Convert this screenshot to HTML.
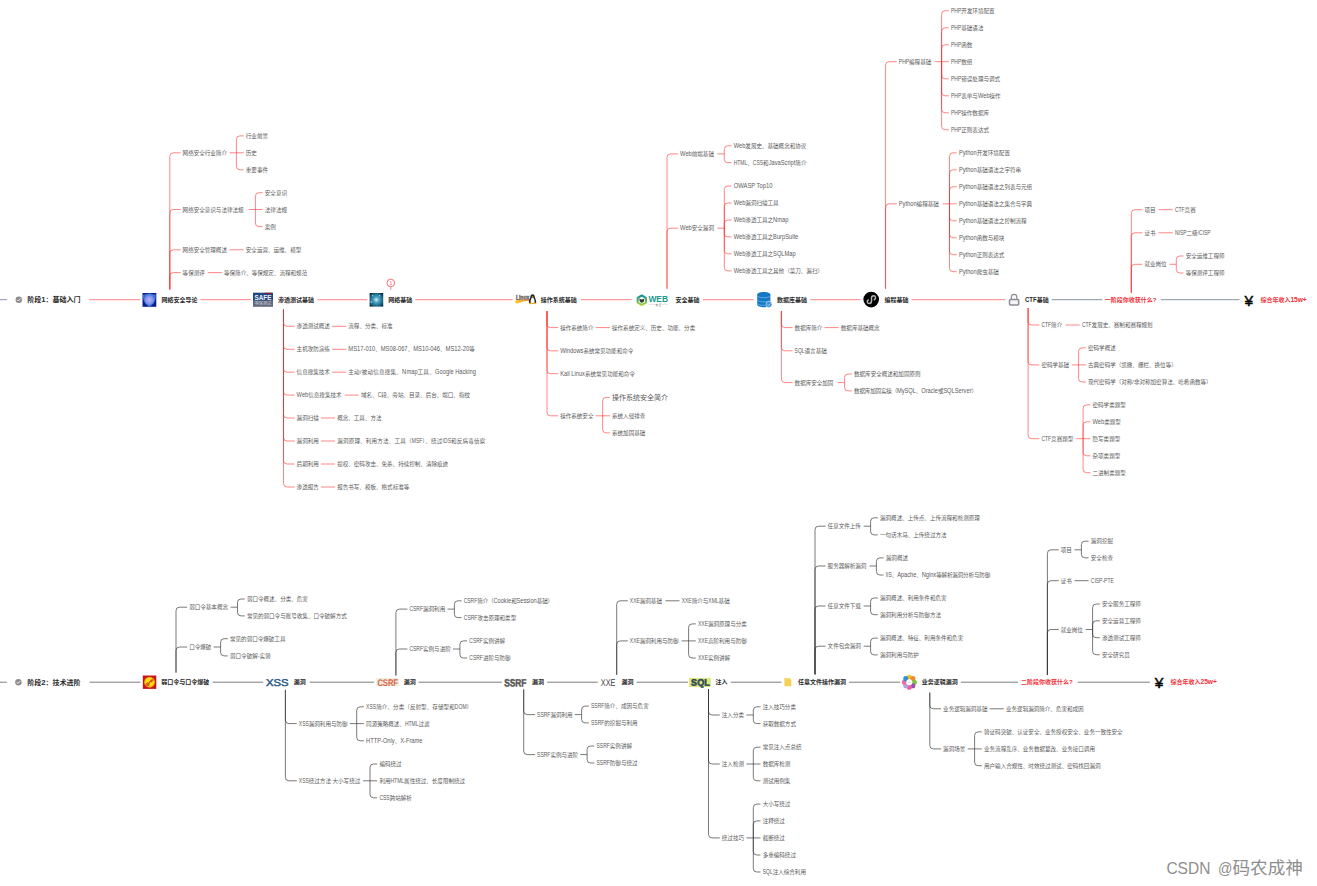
<!DOCTYPE html>
<html lang="zh-CN">
<head>
<meta charset="utf-8">
<title>网络安全学习路线</title>
<style>
html,body{margin:0;padding:0;background:#fff;}
body{width:1317px;height:886px;overflow:hidden;}
svg{display:block;}
svg text{font-family:"Liberation Sans","Noto Sans CJK SC",sans-serif;white-space:pre;}
</style>
</head>
<body>
<svg width="1317" height="886" viewBox="0 0 1317 886">
<rect width="1317" height="886" fill="#fff"/>
<g stroke-linecap="butt" stroke-linejoin="round">
<path d="M169.8 289.5V156.3Q169.8 152.8 173.3 152.8H180.6" stroke="rgba(255,40,40,0.56)" stroke-width="1.00" fill="none"/>
<text x="182.6" y="154.80" font-size="5.55" fill="#5a5a5a">网络安全行业简介</text>
<path d="M236.4 152.8V139.4Q236.4 135.9 239.9 135.9H243.6" stroke="rgba(255,40,40,0.56)" stroke-width="1.00" fill="none"/>
<text x="245.8" y="137.90" font-size="5.55" fill="#5a5a5a">行业前景</text>
<path d="M229.5 152.8H243.6" stroke="rgba(255,40,40,0.56)" stroke-width="1.00" fill="none"/>
<text x="245.8" y="154.80" font-size="5.55" fill="#5a5a5a">历史</text>
<path d="M236.4 152.8V166.3Q236.4 169.8 239.9 169.8H243.6" stroke="rgba(255,40,40,0.56)" stroke-width="1.00" fill="none"/>
<text x="245.8" y="171.80" font-size="5.55" fill="#5a5a5a">重要事件</text>
<path d="M169.8 289.5V213.0Q169.8 209.5 173.3 209.5H180.6" stroke="rgba(255,40,40,0.56)" stroke-width="1.00" fill="none"/>
<text x="182.6" y="211.50" font-size="5.55" fill="#5a5a5a">网络安全意识与法律法规</text>
<path d="M255.4 209.5V196.2Q255.4 192.7 258.9 192.7H262.6" stroke="rgba(255,40,40,0.56)" stroke-width="1.00" fill="none"/>
<text x="264.8" y="194.70" font-size="5.55" fill="#5a5a5a">安全意识</text>
<path d="M248.5 209.5H262.6" stroke="rgba(255,40,40,0.56)" stroke-width="1.00" fill="none"/>
<text x="264.8" y="211.50" font-size="5.55" fill="#5a5a5a">法律法规</text>
<path d="M255.4 209.5V223.1Q255.4 226.6 258.9 226.6H262.6" stroke="rgba(255,40,40,0.56)" stroke-width="1.00" fill="none"/>
<text x="264.8" y="228.60" font-size="5.55" fill="#5a5a5a">案例</text>
<path d="M169.8 289.5V253.3Q169.8 249.8 173.3 249.8H180.6" stroke="rgba(255,40,40,0.56)" stroke-width="1.00" fill="none"/>
<text x="182.6" y="251.80" font-size="5.55" fill="#5a5a5a">网络安全管理概述</text>
<path d="M229.5 249.8H243.6" stroke="rgba(255,40,40,0.56)" stroke-width="1.00" fill="none"/>
<text x="245.8" y="251.80" font-size="5.55" fill="#5a5a5a">安全运营、运维、模型</text>
<path d="M169.8 289.5V276.1Q169.8 272.6 173.3 272.6H180.6" stroke="rgba(255,40,40,0.56)" stroke-width="1.00" fill="none"/>
<text x="182.6" y="274.60" font-size="5.55" fill="#5a5a5a">等保测评</text>
<path d="M207.7 272.6H221.8" stroke="rgba(255,40,40,0.56)" stroke-width="1.00" fill="none"/>
<text x="224.0" y="274.60" font-size="5.55" fill="#5a5a5a">等保简介、等保规定、流程和规范</text>
<path d="M283.5 309.5V322.8Q283.5 326.3 287.0 326.3H294.6" stroke="rgba(255,40,40,0.56)" stroke-width="1.00" fill="none"/>
<text x="296.6" y="328.30" font-size="5.55" fill="#5a5a5a">渗透测试概述</text>
<path d="M332.0 326.3H346.1" stroke="rgba(255,40,40,0.56)" stroke-width="1.00" fill="none"/>
<text x="348.3" y="328.30" font-size="5.55" fill="#5a5a5a">流程、分类、标准</text>
<path d="M283.5 309.5V345.8Q283.5 349.3 287.0 349.3H294.6" stroke="rgba(255,40,40,0.56)" stroke-width="1.00" fill="none"/>
<text x="296.6" y="351.30" font-size="5.55" fill="#5a5a5a">主机攻防演练</text>
<path d="M332.0 349.3H346.1" stroke="rgba(255,40,40,0.56)" stroke-width="1.00" fill="none"/>
<text x="348.3" y="351.30" font-size="5.55" fill="#5a5a5a"><tspan font-size="6.88" textLength="26.89" lengthAdjust="spacingAndGlyphs">MS17-010</tspan>、<tspan font-size="6.88" textLength="26.89" lengthAdjust="spacingAndGlyphs">MS08-067</tspan>、<tspan font-size="6.88" textLength="26.89" lengthAdjust="spacingAndGlyphs">MS10-046</tspan>、<tspan font-size="6.88" textLength="23.65" lengthAdjust="spacingAndGlyphs">MS12-20</tspan>等</text>
<path d="M283.5 309.5V368.7Q283.5 372.2 287.0 372.2H294.6" stroke="rgba(255,40,40,0.56)" stroke-width="1.00" fill="none"/>
<text x="296.6" y="374.20" font-size="5.55" fill="#5a5a5a">信息搜集技术</text>
<path d="M332.0 372.2H346.1" stroke="rgba(255,40,40,0.56)" stroke-width="1.00" fill="none"/>
<text x="348.3" y="374.20" font-size="5.55" fill="#5a5a5a" textLength="127.3" lengthAdjust="spacing">主动/被动信息搜集、<tspan font-size="6.88" textLength="15.25" lengthAdjust="spacingAndGlyphs">Nmap</tspan>工具、<tspan font-size="6.88" textLength="40.67" lengthAdjust="spacingAndGlyphs">Google Hacking</tspan></text>
<path d="M283.5 309.5V391.6Q283.5 395.1 287.0 395.1H294.6" stroke="rgba(255,40,40,0.56)" stroke-width="1.00" fill="none"/>
<text x="296.6" y="397.10" font-size="5.55" fill="#5a5a5a"><tspan font-size="6.88" textLength="11.65" lengthAdjust="spacingAndGlyphs">Web</tspan>信息搜集技术</text>
<path d="M344.7 395.1H358.8" stroke="rgba(255,40,40,0.56)" stroke-width="1.00" fill="none"/>
<text x="361.0" y="397.10" font-size="5.55" fill="#5a5a5a">域名、<tspan font-size="6.88" textLength="3.61" lengthAdjust="spacingAndGlyphs">C</tspan>段、旁站、目录、后台、端口、指纹</text>
<path d="M283.5 309.5V414.5Q283.5 418.0 287.0 418.0H294.6" stroke="rgba(255,40,40,0.56)" stroke-width="1.00" fill="none"/>
<text x="296.6" y="420.00" font-size="5.55" fill="#5a5a5a">漏洞扫描</text>
<path d="M320.9 418.0H335.0" stroke="rgba(255,40,40,0.56)" stroke-width="1.00" fill="none"/>
<text x="337.2" y="420.00" font-size="5.55" fill="#5a5a5a">概念、工具、方法</text>
<path d="M283.5 309.5V437.5Q283.5 441.0 287.0 441.0H294.6" stroke="rgba(255,40,40,0.56)" stroke-width="1.00" fill="none"/>
<text x="296.6" y="443.00" font-size="5.55" fill="#5a5a5a">漏洞利用</text>
<path d="M320.9 441.0H335.0" stroke="rgba(255,40,40,0.56)" stroke-width="1.00" fill="none"/>
<text x="337.2" y="443.00" font-size="5.55" fill="#5a5a5a" textLength="148.0" lengthAdjust="spacing">漏洞原理、利用方法、工具（<tspan font-size="6.88" textLength="10.54" lengthAdjust="spacingAndGlyphs">MSF</tspan>）、绕过<tspan font-size="6.88" textLength="8.33" lengthAdjust="spacingAndGlyphs">IDS</tspan>和反病毒侦察</text>
<path d="M283.5 309.5V460.5Q283.5 464.0 287.0 464.0H294.6" stroke="rgba(255,40,40,0.56)" stroke-width="1.00" fill="none"/>
<text x="296.6" y="466.00" font-size="5.55" fill="#5a5a5a">后期利用</text>
<path d="M320.9 464.0H335.0" stroke="rgba(255,40,40,0.56)" stroke-width="1.00" fill="none"/>
<text x="337.2" y="466.00" font-size="5.55" fill="#5a5a5a">提权、密码攻击、免杀、持续控制、清除痕迹</text>
<path d="M283.5 309.5V483.5Q283.5 487.0 287.0 487.0H294.6" stroke="rgba(255,40,40,0.56)" stroke-width="1.00" fill="none"/>
<text x="296.6" y="489.00" font-size="5.55" fill="#5a5a5a">渗透报告</text>
<path d="M320.9 487.0H335.0" stroke="rgba(255,40,40,0.56)" stroke-width="1.00" fill="none"/>
<text x="337.2" y="489.00" font-size="5.55" fill="#5a5a5a">报告书写、模板、格式标准等</text>
<path d="M547.0 311.0V324.1Q547.0 327.6 550.5 327.6H558.2" stroke="rgba(255,40,40,0.56)" stroke-width="1.00" fill="none"/>
<text x="560.2" y="329.60" font-size="5.55" fill="#5a5a5a">操作系统简介</text>
<path d="M595.7 327.6H609.8" stroke="rgba(255,40,40,0.56)" stroke-width="1.00" fill="none"/>
<text x="612.0" y="329.60" font-size="5.55" fill="#5a5a5a">操作系统定义、历史、功能、分类</text>
<path d="M547.0 311.0V347.3Q547.0 350.8 550.5 350.8H558.2" stroke="rgba(255,40,40,0.56)" stroke-width="1.00" fill="none"/>
<text x="560.2" y="352.80" font-size="5.55" fill="#5a5a5a"><tspan font-size="6.88" textLength="23.19" lengthAdjust="spacingAndGlyphs">Windows</tspan>系统常见功能和命令</text>
<path d="M547.0 311.0V370.2Q547.0 373.7 550.5 373.7H558.2" stroke="rgba(255,40,40,0.56)" stroke-width="1.00" fill="none"/>
<text x="560.2" y="375.70" font-size="5.55" fill="#5a5a5a"><tspan font-size="6.88" textLength="24.79" lengthAdjust="spacingAndGlyphs">Kali Linux</tspan>系统常见功能和命令</text>
<path d="M547.0 311.0V412.3Q547.0 415.8 550.5 415.8H558.2" stroke="rgba(255,40,40,0.56)" stroke-width="1.00" fill="none"/>
<text x="560.2" y="417.80" font-size="5.55" fill="#5a5a5a">操作系统安全</text>
<path d="M602.6 415.8V400.9Q602.6 397.4 606.1 397.4H609.8" stroke="rgba(255,40,40,0.56)" stroke-width="1.00" fill="none"/>
<text x="612.0" y="399.92" font-size="7.00" fill="#5a5a5a">操作系统安全简介</text>
<path d="M595.7 415.8H609.8" stroke="rgba(255,40,40,0.56)" stroke-width="1.00" fill="none"/>
<text x="612.0" y="417.80" font-size="5.55" fill="#5a5a5a">系统入侵排查</text>
<path d="M602.6 415.8V429.4Q602.6 432.9 606.1 432.9H609.8" stroke="rgba(255,40,40,0.56)" stroke-width="1.00" fill="none"/>
<text x="612.0" y="434.90" font-size="5.55" fill="#5a5a5a">系统加固基础</text>
<path d="M667.0 288.8V157.4Q667.0 153.9 670.5 153.9H678.1" stroke="rgba(255,40,40,0.56)" stroke-width="1.00" fill="none"/>
<text x="680.1" y="155.90" font-size="5.55" fill="#5a5a5a"><tspan font-size="6.88" textLength="11.65" lengthAdjust="spacingAndGlyphs">Web</tspan>前端基础</text>
<path d="M717.4 153.9H724.3" stroke="rgba(255,40,40,0.56)" stroke-width="1.00" fill="none"/>
<path d="M724.3 153.9V149.3Q724.3 145.8 727.8 145.8H731.5" stroke="rgba(255,40,40,0.56)" stroke-width="1.00" fill="none"/>
<text x="733.7" y="147.80" font-size="5.55" fill="#5a5a5a"><tspan font-size="6.88" textLength="11.65" lengthAdjust="spacingAndGlyphs">Web</tspan>发展史、基础概念和协议</text>
<path d="M724.3 153.9V159.2Q724.3 162.7 727.8 162.7H731.5" stroke="rgba(255,40,40,0.56)" stroke-width="1.00" fill="none"/>
<text x="733.7" y="164.70" font-size="5.55" fill="#5a5a5a"><tspan font-size="6.88" textLength="13.60" lengthAdjust="spacingAndGlyphs">HTML</tspan>、<tspan font-size="6.88" textLength="10.27" lengthAdjust="spacingAndGlyphs">CSS</tspan>和<tspan font-size="6.88" textLength="26.69" lengthAdjust="spacingAndGlyphs">JavaScript</tspan>简介</text>
<path d="M667.0 288.8V231.7Q667.0 228.2 670.5 228.2H678.1" stroke="rgba(255,40,40,0.56)" stroke-width="1.00" fill="none"/>
<text x="680.1" y="230.20" font-size="5.55" fill="#5a5a5a"><tspan font-size="6.88" textLength="11.65" lengthAdjust="spacingAndGlyphs">Web</tspan>安全漏洞</text>
<path d="M717.4 228.2H724.3" stroke="rgba(255,40,40,0.56)" stroke-width="1.00" fill="none"/>
<path d="M724.3 228.2V189.5Q724.3 186.0 727.8 186.0H731.5" stroke="rgba(255,40,40,0.56)" stroke-width="1.00" fill="none"/>
<text x="733.7" y="188.00" font-size="5.55" fill="#5a5a5a"><tspan font-size="6.88" textLength="38.76" lengthAdjust="spacingAndGlyphs">OWASP Top10</tspan></text>
<path d="M724.3 228.2V206.5Q724.3 203.0 727.8 203.0H731.5" stroke="rgba(255,40,40,0.56)" stroke-width="1.00" fill="none"/>
<text x="733.7" y="205.00" font-size="5.55" fill="#5a5a5a"><tspan font-size="6.88" textLength="11.65" lengthAdjust="spacingAndGlyphs">Web</tspan>漏洞扫描工具</text>
<path d="M724.3 228.2V223.5Q724.3 220.0 727.8 220.0H731.5" stroke="rgba(255,40,40,0.56)" stroke-width="1.00" fill="none"/>
<text x="733.7" y="222.00" font-size="5.55" fill="#5a5a5a"><tspan font-size="6.88" textLength="11.65" lengthAdjust="spacingAndGlyphs">Web</tspan>渗透工具之<tspan font-size="6.88" textLength="15.25" lengthAdjust="spacingAndGlyphs">Nmap</tspan></text>
<path d="M724.3 228.2V233.4Q724.3 236.9 727.8 236.9H731.5" stroke="rgba(255,40,40,0.56)" stroke-width="1.00" fill="none"/>
<text x="733.7" y="238.90" font-size="5.55" fill="#5a5a5a"><tspan font-size="6.88" textLength="11.65" lengthAdjust="spacingAndGlyphs">Web</tspan>渗透工具之<tspan font-size="6.88" textLength="25.10" lengthAdjust="spacingAndGlyphs">BurpSuite</tspan></text>
<path d="M724.3 228.2V250.3Q724.3 253.8 727.8 253.8H731.5" stroke="rgba(255,40,40,0.56)" stroke-width="1.00" fill="none"/>
<text x="733.7" y="255.80" font-size="5.55" fill="#5a5a5a"><tspan font-size="6.88" textLength="11.65" lengthAdjust="spacingAndGlyphs">Web</tspan>渗透工具之<tspan font-size="6.88" textLength="22.56" lengthAdjust="spacingAndGlyphs">SQLMap</tspan></text>
<path d="M724.3 228.2V267.4Q724.3 270.9 727.8 270.9H731.5" stroke="rgba(255,40,40,0.56)" stroke-width="1.00" fill="none"/>
<text x="733.7" y="272.90" font-size="5.55" fill="#5a5a5a"><tspan font-size="6.88" textLength="11.65" lengthAdjust="spacingAndGlyphs">Web</tspan>渗透工具之其他（菜刀、漏扫）</text>
<path d="M781.4 311.0V324.1Q781.4 327.6 784.9 327.6H792.6" stroke="rgba(255,40,40,0.56)" stroke-width="1.00" fill="none"/>
<text x="794.6" y="329.60" font-size="5.55" fill="#5a5a5a">数据库简介</text>
<path d="M824.5 327.6H838.6" stroke="rgba(255,40,40,0.56)" stroke-width="1.00" fill="none"/>
<text x="840.8" y="329.60" font-size="5.55" fill="#5a5a5a">数据库基础概念</text>
<path d="M781.4 311.0V347.3Q781.4 350.8 784.9 350.8H792.6" stroke="rgba(255,40,40,0.56)" stroke-width="1.00" fill="none"/>
<text x="794.6" y="352.80" font-size="5.55" fill="#5a5a5a"><tspan font-size="6.88" textLength="9.99" lengthAdjust="spacingAndGlyphs">SQL</tspan>语言基础</text>
<path d="M781.4 311.0V379.1Q781.4 382.6 784.9 382.6H792.6" stroke="rgba(255,40,40,0.56)" stroke-width="1.00" fill="none"/>
<text x="794.6" y="384.60" font-size="5.55" fill="#5a5a5a">数据库安全加固</text>
<path d="M837.7 382.6H844.6" stroke="rgba(255,40,40,0.56)" stroke-width="1.00" fill="none"/>
<path d="M844.6 382.6V377.5Q844.6 374.0 848.1 374.0H851.8" stroke="rgba(255,40,40,0.56)" stroke-width="1.00" fill="none"/>
<text x="854.0" y="376.00" font-size="5.55" fill="#5a5a5a">数据库安全概述和加固原则</text>
<path d="M844.6 382.6V387.4Q844.6 390.9 848.1 390.9H851.8" stroke="rgba(255,40,40,0.56)" stroke-width="1.00" fill="none"/>
<text x="854.0" y="392.90" font-size="5.55" fill="#5a5a5a" textLength="123.1" lengthAdjust="spacing">数据库加固实操（<tspan font-size="6.88" textLength="19.06" lengthAdjust="spacingAndGlyphs">MySQL</tspan>、<tspan font-size="6.88" textLength="16.84" lengthAdjust="spacingAndGlyphs">Oracle</tspan>或<tspan font-size="6.88" textLength="28.28" lengthAdjust="spacingAndGlyphs">SQLServer</tspan>）</text>
<path d="M885.6 288.8V65.2Q885.6 61.7 889.1 61.7H896.8" stroke="rgba(255,40,40,0.56)" stroke-width="1.00" fill="none"/>
<text x="898.8" y="63.70" font-size="5.55" fill="#5a5a5a"><tspan font-size="6.88" textLength="10.27" lengthAdjust="spacingAndGlyphs">PHP</tspan>编程基础</text>
<path d="M941.6 61.7V14.3Q941.6 10.8 945.1 10.8H948.8" stroke="rgba(255,40,40,0.56)" stroke-width="1.00" fill="none"/>
<text x="951.0" y="12.80" font-size="5.55" fill="#5a5a5a"><tspan font-size="6.88" textLength="10.27" lengthAdjust="spacingAndGlyphs">PHP</tspan>开发环境配置</text>
<path d="M941.6 61.7V31.3Q941.6 27.8 945.1 27.8H948.8" stroke="rgba(255,40,40,0.56)" stroke-width="1.00" fill="none"/>
<text x="951.0" y="29.80" font-size="5.55" fill="#5a5a5a"><tspan font-size="6.88" textLength="10.27" lengthAdjust="spacingAndGlyphs">PHP</tspan>基础语法</text>
<path d="M941.6 61.7V48.3Q941.6 44.8 945.1 44.8H948.8" stroke="rgba(255,40,40,0.56)" stroke-width="1.00" fill="none"/>
<text x="951.0" y="46.80" font-size="5.55" fill="#5a5a5a"><tspan font-size="6.88" textLength="10.27" lengthAdjust="spacingAndGlyphs">PHP</tspan>函数</text>
<path d="M934.7 61.7H948.8" stroke="rgba(255,40,40,0.56)" stroke-width="1.00" fill="none"/>
<text x="951.0" y="63.70" font-size="5.55" fill="#5a5a5a"><tspan font-size="6.88" textLength="10.27" lengthAdjust="spacingAndGlyphs">PHP</tspan>数组</text>
<path d="M941.6 61.7V75.3Q941.6 78.8 945.1 78.8H948.8" stroke="rgba(255,40,40,0.56)" stroke-width="1.00" fill="none"/>
<text x="951.0" y="80.80" font-size="5.55" fill="#5a5a5a"><tspan font-size="6.88" textLength="10.27" lengthAdjust="spacingAndGlyphs">PHP</tspan>错误处理与调式</text>
<path d="M941.6 61.7V92.3Q941.6 95.8 945.1 95.8H948.8" stroke="rgba(255,40,40,0.56)" stroke-width="1.00" fill="none"/>
<text x="951.0" y="97.80" font-size="5.55" fill="#5a5a5a"><tspan font-size="6.88" textLength="10.27" lengthAdjust="spacingAndGlyphs">PHP</tspan>表单与<tspan font-size="6.88" textLength="11.65" lengthAdjust="spacingAndGlyphs">Web</tspan>操作</text>
<path d="M941.6 61.7V109.3Q941.6 112.8 945.1 112.8H948.8" stroke="rgba(255,40,40,0.56)" stroke-width="1.00" fill="none"/>
<text x="951.0" y="114.80" font-size="5.55" fill="#5a5a5a"><tspan font-size="6.88" textLength="10.27" lengthAdjust="spacingAndGlyphs">PHP</tspan>操作数据库</text>
<path d="M941.6 61.7V126.3Q941.6 129.8 945.1 129.8H948.8" stroke="rgba(255,40,40,0.56)" stroke-width="1.00" fill="none"/>
<text x="951.0" y="131.80" font-size="5.55" fill="#5a5a5a"><tspan font-size="6.88" textLength="10.27" lengthAdjust="spacingAndGlyphs">PHP</tspan>正则表达式</text>
<path d="M885.6 288.8V207.3Q885.6 203.8 889.1 203.8H896.8" stroke="rgba(255,40,40,0.56)" stroke-width="1.00" fill="none"/>
<text x="898.8" y="205.80" font-size="5.55" fill="#5a5a5a"><tspan font-size="6.88" textLength="17.80" lengthAdjust="spacingAndGlyphs">Python</tspan>编程基础</text>
<path d="M949.5 203.8V156.3Q949.5 152.8 953.0 152.8H956.7" stroke="rgba(255,40,40,0.56)" stroke-width="1.00" fill="none"/>
<text x="958.9" y="154.80" font-size="5.55" fill="#5a5a5a"><tspan font-size="6.88" textLength="17.80" lengthAdjust="spacingAndGlyphs">Python</tspan>开发环境配置</text>
<path d="M949.5 203.8V173.3Q949.5 169.8 953.0 169.8H956.7" stroke="rgba(255,40,40,0.56)" stroke-width="1.00" fill="none"/>
<text x="958.9" y="171.80" font-size="5.55" fill="#5a5a5a"><tspan font-size="6.88" textLength="17.80" lengthAdjust="spacingAndGlyphs">Python</tspan>基础语法之字符串</text>
<path d="M949.5 203.8V190.3Q949.5 186.8 953.0 186.8H956.7" stroke="rgba(255,40,40,0.56)" stroke-width="1.00" fill="none"/>
<text x="958.9" y="188.80" font-size="5.55" fill="#5a5a5a"><tspan font-size="6.88" textLength="17.80" lengthAdjust="spacingAndGlyphs">Python</tspan>基础语法之列表与元组</text>
<path d="M942.6 203.8H956.7" stroke="rgba(255,40,40,0.56)" stroke-width="1.00" fill="none"/>
<text x="958.9" y="205.80" font-size="5.55" fill="#5a5a5a"><tspan font-size="6.88" textLength="17.80" lengthAdjust="spacingAndGlyphs">Python</tspan>基础语法之集合与字典</text>
<path d="M949.5 203.8V217.3Q949.5 220.8 953.0 220.8H956.7" stroke="rgba(255,40,40,0.56)" stroke-width="1.00" fill="none"/>
<text x="958.9" y="222.80" font-size="5.55" fill="#5a5a5a"><tspan font-size="6.88" textLength="17.80" lengthAdjust="spacingAndGlyphs">Python</tspan>基础语法之控制流程</text>
<path d="M949.5 203.8V234.3Q949.5 237.8 953.0 237.8H956.7" stroke="rgba(255,40,40,0.56)" stroke-width="1.00" fill="none"/>
<text x="958.9" y="239.80" font-size="5.55" fill="#5a5a5a"><tspan font-size="6.88" textLength="17.80" lengthAdjust="spacingAndGlyphs">Python</tspan>函数与模块</text>
<path d="M949.5 203.8V251.2Q949.5 254.7 953.0 254.7H956.7" stroke="rgba(255,40,40,0.56)" stroke-width="1.00" fill="none"/>
<text x="958.9" y="256.70" font-size="5.55" fill="#5a5a5a"><tspan font-size="6.88" textLength="17.80" lengthAdjust="spacingAndGlyphs">Python</tspan>正则表达式</text>
<path d="M949.5 203.8V268.2Q949.5 271.7 953.0 271.7H956.7" stroke="rgba(255,40,40,0.56)" stroke-width="1.00" fill="none"/>
<text x="958.9" y="273.70" font-size="5.55" fill="#5a5a5a"><tspan font-size="6.88" textLength="17.80" lengthAdjust="spacingAndGlyphs">Python</tspan>爬虫基础</text>
<path d="M1028.1 308.0V321.5Q1028.1 325.0 1031.6 325.0H1039.4" stroke="rgba(255,40,40,0.56)" stroke-width="1.00" fill="none"/>
<text x="1041.4" y="327.00" font-size="5.55" fill="#5a5a5a"><tspan font-size="6.88" textLength="9.71" lengthAdjust="spacingAndGlyphs">CTF</tspan>简介</text>
<path d="M1065.6 325.0H1079.7" stroke="rgba(255,40,40,0.56)" stroke-width="1.00" fill="none"/>
<text x="1081.9" y="327.00" font-size="5.55" fill="#5a5a5a"><tspan font-size="6.88" textLength="9.71" lengthAdjust="spacingAndGlyphs">CTF</tspan>发展史、赛制和赛程规划</text>
<path d="M1028.1 308.0V361.4Q1028.1 364.9 1031.6 364.9H1039.4" stroke="rgba(255,40,40,0.56)" stroke-width="1.00" fill="none"/>
<text x="1041.4" y="366.90" font-size="5.55" fill="#5a5a5a">密码学基础</text>
<path d="M1078.6 364.9V351.3Q1078.6 347.8 1082.1 347.8H1085.8" stroke="rgba(255,40,40,0.56)" stroke-width="1.00" fill="none"/>
<text x="1088.0" y="349.80" font-size="5.55" fill="#5a5a5a">密码学概述</text>
<path d="M1071.7 364.9H1085.8" stroke="rgba(255,40,40,0.56)" stroke-width="1.00" fill="none"/>
<text x="1088.0" y="366.90" font-size="5.55" fill="#5a5a5a">古典密码学（凯撒、栅栏、换位等）</text>
<path d="M1078.6 364.9V378.5Q1078.6 382.0 1082.1 382.0H1085.8" stroke="rgba(255,40,40,0.56)" stroke-width="1.00" fill="none"/>
<text x="1088.0" y="384.00" font-size="5.55" fill="#5a5a5a">现代密码学（对称/非对称加密算法、哈希函数等）</text>
<path d="M1028.1 308.0V435.2Q1028.1 438.7 1031.6 438.7H1039.4" stroke="rgba(255,40,40,0.56)" stroke-width="1.00" fill="none"/>
<text x="1041.4" y="440.70" font-size="5.55" fill="#5a5a5a"><tspan font-size="6.88" textLength="9.71" lengthAdjust="spacingAndGlyphs">CTF</tspan>竞赛题型</text>
<path d="M1083.1 438.7V408.4Q1083.1 404.9 1086.6 404.9H1090.3" stroke="rgba(255,40,40,0.56)" stroke-width="1.00" fill="none"/>
<text x="1092.5" y="406.90" font-size="5.55" fill="#5a5a5a">密码学类题型</text>
<path d="M1083.1 438.7V425.3Q1083.1 421.8 1086.6 421.8H1090.3" stroke="rgba(255,40,40,0.56)" stroke-width="1.00" fill="none"/>
<text x="1092.5" y="423.80" font-size="5.55" fill="#5a5a5a"><tspan font-size="6.88" textLength="11.65" lengthAdjust="spacingAndGlyphs">Web</tspan>类题型</text>
<path d="M1076.2 438.7H1090.3" stroke="rgba(255,40,40,0.56)" stroke-width="1.00" fill="none"/>
<text x="1092.5" y="440.70" font-size="5.55" fill="#5a5a5a">隐写类题型</text>
<path d="M1083.1 438.7V452.3Q1083.1 455.8 1086.6 455.8H1090.3" stroke="rgba(255,40,40,0.56)" stroke-width="1.00" fill="none"/>
<text x="1092.5" y="457.80" font-size="5.55" fill="#5a5a5a">杂项类题型</text>
<path d="M1083.1 438.7V469.2Q1083.1 472.7 1086.6 472.7H1090.3" stroke="rgba(255,40,40,0.56)" stroke-width="1.00" fill="none"/>
<text x="1092.5" y="474.70" font-size="5.55" fill="#5a5a5a">二进制类题型</text>
<path d="M1131.3 292.8V213.2Q1131.3 209.7 1134.8 209.7H1142.4" stroke="rgba(255,40,40,0.56)" stroke-width="1.00" fill="none"/>
<text x="1144.4" y="211.70" font-size="5.55" fill="#5a5a5a">项目</text>
<path d="M1158.6 209.7H1172.7" stroke="rgba(255,40,40,0.56)" stroke-width="1.00" fill="none"/>
<text x="1174.9" y="211.70" font-size="5.55" fill="#5a5a5a"><tspan font-size="6.88" textLength="9.71" lengthAdjust="spacingAndGlyphs">CTF</tspan>竞赛</text>
<path d="M1131.3 292.8V236.3Q1131.3 232.8 1134.8 232.8H1142.4" stroke="rgba(255,40,40,0.56)" stroke-width="1.00" fill="none"/>
<text x="1144.4" y="234.80" font-size="5.55" fill="#5a5a5a">证书</text>
<path d="M1158.6 232.8H1172.7" stroke="rgba(255,40,40,0.56)" stroke-width="1.00" fill="none"/>
<text x="1174.9" y="234.80" font-size="5.55" fill="#5a5a5a"><tspan font-size="6.88" textLength="11.66" lengthAdjust="spacingAndGlyphs">NISP</tspan>二级<tspan font-size="6.88" textLength="13.05" lengthAdjust="spacingAndGlyphs">/CISP</tspan></text>
<path d="M1131.3 292.8V267.8Q1131.3 264.3 1134.8 264.3H1142.4" stroke="rgba(255,40,40,0.56)" stroke-width="1.00" fill="none"/>
<text x="1144.4" y="266.30" font-size="5.55" fill="#5a5a5a">就业岗位</text>
<path d="M1169.4 264.3H1176.3" stroke="rgba(255,40,40,0.56)" stroke-width="1.00" fill="none"/>
<path d="M1176.3 264.3V259.5Q1176.3 256.0 1179.8 256.0H1183.5" stroke="rgba(255,40,40,0.56)" stroke-width="1.00" fill="none"/>
<text x="1185.7" y="258.00" font-size="5.55" fill="#5a5a5a">安全运维工程师</text>
<path d="M1176.3 264.3V269.5Q1176.3 273.0 1179.8 273.0H1183.5" stroke="rgba(255,40,40,0.56)" stroke-width="1.00" fill="none"/>
<text x="1185.7" y="275.00" font-size="5.55" fill="#5a5a5a">等保测评工程师</text>
<path d="M176.0 672.6V610.7Q176.0 607.2 179.5 607.2H187.2" stroke="rgba(40,40,40,0.62)" stroke-width="1.00" fill="none"/>
<text x="189.2" y="609.20" font-size="5.55" fill="#5a5a5a">弱口令基本概念</text>
<path d="M230.6 607.2H237.5" stroke="rgba(40,40,40,0.62)" stroke-width="1.00" fill="none"/>
<path d="M237.5 607.2V602.5Q237.5 599.0 241.0 599.0H244.7" stroke="rgba(40,40,40,0.62)" stroke-width="1.00" fill="none"/>
<text x="246.9" y="601.00" font-size="5.55" fill="#5a5a5a">弱口令概述、分类、危害</text>
<path d="M237.5 607.2V612.4Q237.5 615.9 241.0 615.9H244.7" stroke="rgba(40,40,40,0.62)" stroke-width="1.00" fill="none"/>
<text x="246.9" y="617.90" font-size="5.55" fill="#5a5a5a">常见的弱口令与账号收集、口令破解方式</text>
<path d="M176.0 672.6V650.5Q176.0 647.0 179.5 647.0H187.2" stroke="rgba(40,40,40,0.62)" stroke-width="1.00" fill="none"/>
<text x="189.2" y="649.00" font-size="5.55" fill="#5a5a5a">口令爆破</text>
<path d="M213.7 647.0H220.6" stroke="rgba(40,40,40,0.62)" stroke-width="1.00" fill="none"/>
<path d="M220.6 647.0V642.2Q220.6 638.7 224.1 638.7H227.8" stroke="rgba(40,40,40,0.62)" stroke-width="1.00" fill="none"/>
<text x="230.0" y="640.70" font-size="5.55" fill="#5a5a5a">常见的弱口令爆破工具</text>
<path d="M220.6 647.0V652.4Q220.6 655.9 224.1 655.9H227.8" stroke="rgba(40,40,40,0.62)" stroke-width="1.00" fill="none"/>
<text x="230.0" y="657.90" font-size="5.55" fill="#5a5a5a">弱口令破解-实验</text>
<path d="M285.4 689.8V720.1Q285.4 723.6 288.9 723.6H296.8" stroke="rgba(40,40,40,0.62)" stroke-width="1.00" fill="none"/>
<text x="298.8" y="725.60" font-size="5.55" fill="#5a5a5a"><tspan font-size="6.88" textLength="9.99" lengthAdjust="spacingAndGlyphs">XSS</tspan>漏洞利用与防御</text>
<path d="M356.7 723.6V710.3Q356.7 706.8 360.2 706.8H363.9" stroke="rgba(40,40,40,0.62)" stroke-width="1.00" fill="none"/>
<text x="366.1" y="708.80" font-size="5.55" fill="#5a5a5a" textLength="106.0" lengthAdjust="spacing"><tspan font-size="6.88" textLength="9.99" lengthAdjust="spacingAndGlyphs">XSS</tspan>简介、分类（反射型、存储型和<tspan font-size="6.88" textLength="11.65" lengthAdjust="spacingAndGlyphs">DOM</tspan>）</text>
<path d="M349.8 723.6H363.9" stroke="rgba(40,40,40,0.62)" stroke-width="1.00" fill="none"/>
<text x="366.1" y="725.60" font-size="5.55" fill="#5a5a5a">同源策略概述、<tspan font-size="6.88" textLength="13.60" lengthAdjust="spacingAndGlyphs">HTML</tspan>过滤</text>
<path d="M356.7 723.6V737.3Q356.7 740.8 360.2 740.8H363.9" stroke="rgba(40,40,40,0.62)" stroke-width="1.00" fill="none"/>
<text x="366.1" y="742.80" font-size="5.55" fill="#5a5a5a"><tspan font-size="6.88" textLength="28.58" lengthAdjust="spacingAndGlyphs">HTTP-Only</tspan>、<tspan font-size="6.88" textLength="22.23" lengthAdjust="spacingAndGlyphs">X-Frame</tspan></text>
<path d="M285.4 689.8V777.3Q285.4 780.8 288.9 780.8H296.8" stroke="rgba(40,40,40,0.62)" stroke-width="1.00" fill="none"/>
<text x="298.8" y="782.80" font-size="5.55" fill="#5a5a5a"><tspan font-size="6.88" textLength="9.99" lengthAdjust="spacingAndGlyphs">XSS</tspan>绕过方法 大小写绕过</text>
<path d="M370.0 780.8V767.5Q370.0 764.0 373.5 764.0H377.2" stroke="rgba(40,40,40,0.62)" stroke-width="1.00" fill="none"/>
<text x="379.4" y="766.00" font-size="5.55" fill="#5a5a5a">编码绕过</text>
<path d="M363.1 780.8H377.2" stroke="rgba(40,40,40,0.62)" stroke-width="1.00" fill="none"/>
<text x="379.4" y="782.80" font-size="5.55" fill="#5a5a5a">利用<tspan font-size="6.88" textLength="13.60" lengthAdjust="spacingAndGlyphs">HTML</tspan>属性绕过、长度限制绕过</text>
<path d="M370.0 780.8V794.3Q370.0 797.8 373.5 797.8H377.2" stroke="rgba(40,40,40,0.62)" stroke-width="1.00" fill="none"/>
<text x="379.4" y="799.80" font-size="5.55" fill="#5a5a5a"><tspan font-size="6.88" textLength="10.27" lengthAdjust="spacingAndGlyphs">CSS</tspan>跨站解析</text>
<path d="M395.9 675.5V612.6Q395.9 609.1 399.4 609.1H407.4" stroke="rgba(40,40,40,0.62)" stroke-width="1.00" fill="none"/>
<text x="409.4" y="611.10" font-size="5.55" fill="#5a5a5a"><tspan font-size="6.88" textLength="13.60" lengthAdjust="spacingAndGlyphs">CSRF</tspan>漏洞利用</text>
<path d="M447.5 609.1H454.4" stroke="rgba(40,40,40,0.62)" stroke-width="1.00" fill="none"/>
<path d="M454.4 609.1V604.3Q454.4 600.8 457.9 600.8H461.6" stroke="rgba(40,40,40,0.62)" stroke-width="1.00" fill="none"/>
<text x="463.8" y="602.80" font-size="5.55" fill="#5a5a5a" textLength="89.3" lengthAdjust="spacing"><tspan font-size="6.88" textLength="13.60" lengthAdjust="spacingAndGlyphs">CSRF</tspan>简介（<tspan font-size="6.88" textLength="17.79" lengthAdjust="spacingAndGlyphs">Cookie</tspan>和<tspan font-size="6.88" textLength="20.34" lengthAdjust="spacingAndGlyphs">Session</tspan>基础）</text>
<path d="M454.4 609.1V614.1Q454.4 617.6 457.9 617.6H461.6" stroke="rgba(40,40,40,0.62)" stroke-width="1.00" fill="none"/>
<text x="463.8" y="619.60" font-size="5.55" fill="#5a5a5a"><tspan font-size="6.88" textLength="13.60" lengthAdjust="spacingAndGlyphs">CSRF</tspan>攻击原理和类型</text>
<path d="M395.9 675.5V652.5Q395.9 649.0 399.4 649.0H407.4" stroke="rgba(40,40,40,0.62)" stroke-width="1.00" fill="none"/>
<text x="409.4" y="651.00" font-size="5.55" fill="#5a5a5a"><tspan font-size="6.88" textLength="13.60" lengthAdjust="spacingAndGlyphs">CSRF</tspan>实例与进阶</text>
<path d="M453.0 649.0H459.9" stroke="rgba(40,40,40,0.62)" stroke-width="1.00" fill="none"/>
<path d="M459.9 649.0V644.4Q459.9 640.9 463.4 640.9H467.1" stroke="rgba(40,40,40,0.62)" stroke-width="1.00" fill="none"/>
<text x="469.3" y="642.90" font-size="5.55" fill="#5a5a5a"><tspan font-size="6.88" textLength="13.60" lengthAdjust="spacingAndGlyphs">CSRF</tspan>实例讲解</text>
<path d="M459.9 649.0V654.5Q459.9 658.0 463.4 658.0H467.1" stroke="rgba(40,40,40,0.62)" stroke-width="1.00" fill="none"/>
<text x="469.3" y="660.00" font-size="5.55" fill="#5a5a5a"><tspan font-size="6.88" textLength="13.60" lengthAdjust="spacingAndGlyphs">CSRF</tspan>进阶与防御</text>
<path d="M523.7 689.4V711.1Q523.7 714.6 527.2 714.6H535.1" stroke="rgba(40,40,40,0.62)" stroke-width="1.00" fill="none"/>
<text x="537.1" y="716.60" font-size="5.55" fill="#5a5a5a"><tspan font-size="6.88" textLength="13.32" lengthAdjust="spacingAndGlyphs">SSRF</tspan>漏洞利用</text>
<path d="M574.7 714.6H581.6" stroke="rgba(40,40,40,0.62)" stroke-width="1.00" fill="none"/>
<path d="M581.6 714.6V709.6Q581.6 706.1 585.1 706.1H588.8" stroke="rgba(40,40,40,0.62)" stroke-width="1.00" fill="none"/>
<text x="591.0" y="708.10" font-size="5.55" fill="#5a5a5a"><tspan font-size="6.88" textLength="13.32" lengthAdjust="spacingAndGlyphs">SSRF</tspan>简介、成因与危害</text>
<path d="M581.6 714.6V719.4Q581.6 722.9 585.1 722.9H588.8" stroke="rgba(40,40,40,0.62)" stroke-width="1.00" fill="none"/>
<text x="591.0" y="724.90" font-size="5.55" fill="#5a5a5a"><tspan font-size="6.88" textLength="13.32" lengthAdjust="spacingAndGlyphs">SSRF</tspan>的挖掘与利用</text>
<path d="M523.7 689.4V751.1Q523.7 754.6 527.2 754.6H535.1" stroke="rgba(40,40,40,0.62)" stroke-width="1.00" fill="none"/>
<text x="537.1" y="756.60" font-size="5.55" fill="#5a5a5a"><tspan font-size="6.88" textLength="13.32" lengthAdjust="spacingAndGlyphs">SSRF</tspan>实例与进阶</text>
<path d="M580.2 754.6H587.1" stroke="rgba(40,40,40,0.62)" stroke-width="1.00" fill="none"/>
<path d="M587.1 754.6V749.5Q587.1 746.0 590.6 746.0H594.3" stroke="rgba(40,40,40,0.62)" stroke-width="1.00" fill="none"/>
<text x="596.5" y="748.00" font-size="5.55" fill="#5a5a5a"><tspan font-size="6.88" textLength="13.32" lengthAdjust="spacingAndGlyphs">SSRF</tspan>实例讲解</text>
<path d="M587.1 754.6V759.5Q587.1 763.0 590.6 763.0H594.3" stroke="rgba(40,40,40,0.62)" stroke-width="1.00" fill="none"/>
<text x="596.5" y="765.00" font-size="5.55" fill="#5a5a5a"><tspan font-size="6.88" textLength="13.32" lengthAdjust="spacingAndGlyphs">SSRF</tspan>防御与绕过</text>
<path d="M616.7 674.8V604.3Q616.7 600.8 620.2 600.8H627.8" stroke="rgba(40,40,40,0.62)" stroke-width="1.00" fill="none"/>
<text x="629.8" y="602.80" font-size="5.55" fill="#5a5a5a"><tspan font-size="6.88" textLength="9.99" lengthAdjust="spacingAndGlyphs">XXE</tspan>漏洞基础</text>
<path d="M665.4 600.8H679.5" stroke="rgba(40,40,40,0.62)" stroke-width="1.00" fill="none"/>
<text x="681.7" y="602.80" font-size="5.55" fill="#5a5a5a"><tspan font-size="6.88" textLength="9.99" lengthAdjust="spacingAndGlyphs">XXE</tspan>简介与<tspan font-size="6.88" textLength="10.27" lengthAdjust="spacingAndGlyphs">XML</tspan>基础</text>
<path d="M616.7 674.8V644.4Q616.7 640.9 620.2 640.9H627.8" stroke="rgba(40,40,40,0.62)" stroke-width="1.00" fill="none"/>
<text x="629.8" y="642.90" font-size="5.55" fill="#5a5a5a"><tspan font-size="6.88" textLength="9.99" lengthAdjust="spacingAndGlyphs">XXE</tspan>漏洞利用与防御</text>
<path d="M688.6 640.9V627.4Q688.6 623.9 692.1 623.9H695.8" stroke="rgba(40,40,40,0.62)" stroke-width="1.00" fill="none"/>
<text x="698.0" y="625.90" font-size="5.55" fill="#5a5a5a"><tspan font-size="6.88" textLength="9.99" lengthAdjust="spacingAndGlyphs">XXE</tspan>漏洞原理与分类</text>
<path d="M681.7 640.9H695.8" stroke="rgba(40,40,40,0.62)" stroke-width="1.00" fill="none"/>
<text x="698.0" y="642.90" font-size="5.55" fill="#5a5a5a"><tspan font-size="6.88" textLength="9.99" lengthAdjust="spacingAndGlyphs">XXE</tspan>高阶利用与防御</text>
<path d="M688.6 640.9V654.5Q688.6 658.0 692.1 658.0H695.8" stroke="rgba(40,40,40,0.62)" stroke-width="1.00" fill="none"/>
<text x="698.0" y="660.00" font-size="5.55" fill="#5a5a5a"><tspan font-size="6.88" textLength="9.99" lengthAdjust="spacingAndGlyphs">XXE</tspan>实例讲解</text>
<path d="M708.5 689.1V711.5Q708.5 715.0 712.0 715.0H719.8" stroke="rgba(40,40,40,0.62)" stroke-width="1.00" fill="none"/>
<text x="721.8" y="717.00" font-size="5.55" fill="#5a5a5a">注入分类</text>
<path d="M746.4 715.0H753.3" stroke="rgba(40,40,40,0.62)" stroke-width="1.00" fill="none"/>
<path d="M753.3 715.0V710.3Q753.3 706.8 756.8 706.8H760.5" stroke="rgba(40,40,40,0.62)" stroke-width="1.00" fill="none"/>
<text x="762.7" y="708.80" font-size="5.55" fill="#5a5a5a">注入技巧分类</text>
<path d="M753.3 715.0V720.1Q753.3 723.6 756.8 723.6H760.5" stroke="rgba(40,40,40,0.62)" stroke-width="1.00" fill="none"/>
<text x="762.7" y="725.60" font-size="5.55" fill="#5a5a5a">获取数据方式</text>
<path d="M708.5 689.1V760.5Q708.5 764.0 712.0 764.0H719.8" stroke="rgba(40,40,40,0.62)" stroke-width="1.00" fill="none"/>
<text x="721.8" y="766.00" font-size="5.55" fill="#5a5a5a">注入检测</text>
<path d="M753.3 764.0V750.7Q753.3 747.2 756.8 747.2H760.5" stroke="rgba(40,40,40,0.62)" stroke-width="1.00" fill="none"/>
<text x="762.7" y="749.20" font-size="5.55" fill="#5a5a5a">常见注入点总结</text>
<path d="M746.4 764.0H760.5" stroke="rgba(40,40,40,0.62)" stroke-width="1.00" fill="none"/>
<text x="762.7" y="766.00" font-size="5.55" fill="#5a5a5a">数据库检测</text>
<path d="M753.3 764.0V777.3Q753.3 780.8 756.8 780.8H760.5" stroke="rgba(40,40,40,0.62)" stroke-width="1.00" fill="none"/>
<text x="762.7" y="782.80" font-size="5.55" fill="#5a5a5a">测试用例集</text>
<path d="M708.5 689.1V834.4Q708.5 837.9 712.0 837.9H719.8" stroke="rgba(40,40,40,0.62)" stroke-width="1.00" fill="none"/>
<text x="721.8" y="839.90" font-size="5.55" fill="#5a5a5a">绕过技巧</text>
<path d="M753.3 837.9V807.6Q753.3 804.1 756.8 804.1H760.5" stroke="rgba(40,40,40,0.62)" stroke-width="1.00" fill="none"/>
<text x="762.7" y="806.10" font-size="5.55" fill="#5a5a5a">大小写绕过</text>
<path d="M753.3 837.9V824.4Q753.3 820.9 756.8 820.9H760.5" stroke="rgba(40,40,40,0.62)" stroke-width="1.00" fill="none"/>
<text x="762.7" y="822.90" font-size="5.55" fill="#5a5a5a">注释绕过</text>
<path d="M746.4 837.9H760.5" stroke="rgba(40,40,40,0.62)" stroke-width="1.00" fill="none"/>
<text x="762.7" y="839.90" font-size="5.55" fill="#5a5a5a">截断绕过</text>
<path d="M753.3 837.9V851.5Q753.3 855.0 756.8 855.0H760.5" stroke="rgba(40,40,40,0.62)" stroke-width="1.00" fill="none"/>
<text x="762.7" y="857.00" font-size="5.55" fill="#5a5a5a">多重编码绕过</text>
<path d="M753.3 837.9V868.5Q753.3 872.0 756.8 872.0H760.5" stroke="rgba(40,40,40,0.62)" stroke-width="1.00" fill="none"/>
<text x="762.7" y="874.00" font-size="5.55" fill="#5a5a5a"><tspan font-size="6.88" textLength="9.99" lengthAdjust="spacingAndGlyphs">SQL</tspan>注入综合利用</text>
<path d="M815.0 674.4V529.7Q815.0 526.2 818.5 526.2H825.6" stroke="rgba(40,40,40,0.62)" stroke-width="1.00" fill="none"/>
<text x="827.6" y="528.20" font-size="5.55" fill="#5a5a5a">任意文件上传</text>
<path d="M863.7 526.2H870.6" stroke="rgba(40,40,40,0.62)" stroke-width="1.00" fill="none"/>
<path d="M870.6 526.2V521.3Q870.6 517.8 874.1 517.8H877.8" stroke="rgba(40,40,40,0.62)" stroke-width="1.00" fill="none"/>
<text x="880.0" y="519.80" font-size="5.55" fill="#5a5a5a">漏洞概述、上传点、上传流程和检测原理</text>
<path d="M870.6 526.2V531.4Q870.6 534.9 874.1 534.9H877.8" stroke="rgba(40,40,40,0.62)" stroke-width="1.00" fill="none"/>
<text x="880.0" y="536.90" font-size="5.55" fill="#5a5a5a">一句话木马、上传绕过方法</text>
<path d="M815.0 674.4V569.5Q815.0 566.0 818.5 566.0H825.6" stroke="rgba(40,40,40,0.62)" stroke-width="1.00" fill="none"/>
<text x="827.6" y="568.00" font-size="5.55" fill="#5a5a5a">服务器解析漏洞</text>
<path d="M869.5 566.0H876.4" stroke="rgba(40,40,40,0.62)" stroke-width="1.00" fill="none"/>
<path d="M876.4 566.0V561.4Q876.4 557.9 879.9 557.9H883.6" stroke="rgba(40,40,40,0.62)" stroke-width="1.00" fill="none"/>
<text x="885.8" y="559.90" font-size="5.55" fill="#5a5a5a">漏洞概述</text>
<path d="M876.4 566.0V571.5Q876.4 575.0 879.9 575.0H883.6" stroke="rgba(40,40,40,0.62)" stroke-width="1.00" fill="none"/>
<text x="885.8" y="577.00" font-size="5.55" fill="#5a5a5a" textLength="104.4" lengthAdjust="spacing"><tspan font-size="6.88" textLength="6.11" lengthAdjust="spacingAndGlyphs">IIS</tspan>、<tspan font-size="6.88" textLength="19.39" lengthAdjust="spacingAndGlyphs">Apache</tspan>、<tspan font-size="6.88" textLength="14.62" lengthAdjust="spacingAndGlyphs">Nginx</tspan>等解析漏洞分析与防御</text>
<path d="M815.0 674.4V609.5Q815.0 606.0 818.5 606.0H825.6" stroke="rgba(40,40,40,0.62)" stroke-width="1.00" fill="none"/>
<text x="827.6" y="608.00" font-size="5.55" fill="#5a5a5a">任意文件下载</text>
<path d="M863.7 606.0H870.6" stroke="rgba(40,40,40,0.62)" stroke-width="1.00" fill="none"/>
<path d="M870.6 606.0V601.5Q870.6 598.0 874.1 598.0H877.8" stroke="rgba(40,40,40,0.62)" stroke-width="1.00" fill="none"/>
<text x="880.0" y="600.00" font-size="5.55" fill="#5a5a5a">漏洞概述、利用条件和危害</text>
<path d="M870.6 606.0V611.2Q870.6 614.7 874.1 614.7H877.8" stroke="rgba(40,40,40,0.62)" stroke-width="1.00" fill="none"/>
<text x="880.0" y="616.70" font-size="5.55" fill="#5a5a5a">漏洞利用分析与防御方法</text>
<path d="M815.0 674.4V649.7Q815.0 646.2 818.5 646.2H825.6" stroke="rgba(40,40,40,0.62)" stroke-width="1.00" fill="none"/>
<text x="827.6" y="648.20" font-size="5.55" fill="#5a5a5a">文件包含漏洞</text>
<path d="M863.7 646.2H870.6" stroke="rgba(40,40,40,0.62)" stroke-width="1.00" fill="none"/>
<path d="M870.6 646.2V641.6Q870.6 638.1 874.1 638.1H877.8" stroke="rgba(40,40,40,0.62)" stroke-width="1.00" fill="none"/>
<text x="880.0" y="640.10" font-size="5.55" fill="#5a5a5a">漏洞概述、特征、利用条件和危害</text>
<path d="M870.6 646.2V651.4Q870.6 654.9 874.1 654.9H877.8" stroke="rgba(40,40,40,0.62)" stroke-width="1.00" fill="none"/>
<text x="880.0" y="656.90" font-size="5.55" fill="#5a5a5a">漏洞利用与防护</text>
<path d="M929.8 692.6V705.3Q929.8 708.8 933.3 708.8H941.1" stroke="rgba(40,40,40,0.62)" stroke-width="1.00" fill="none"/>
<text x="943.1" y="710.80" font-size="5.55" fill="#5a5a5a">业务逻辑漏洞基础</text>
<path d="M989.7 708.8H1003.8" stroke="rgba(40,40,40,0.62)" stroke-width="1.00" fill="none"/>
<text x="1006.0" y="710.80" font-size="5.55" fill="#5a5a5a">业务逻辑漏洞简介、危害和成因</text>
<path d="M929.8 692.6V745.4Q929.8 748.9 933.3 748.9H941.1" stroke="rgba(40,40,40,0.62)" stroke-width="1.00" fill="none"/>
<text x="943.1" y="750.90" font-size="5.55" fill="#5a5a5a">漏洞场景</text>
<path d="M974.6 748.9V735.4Q974.6 731.9 978.1 731.9H981.8" stroke="rgba(40,40,40,0.62)" stroke-width="1.00" fill="none"/>
<text x="984.0" y="733.90" font-size="5.55" fill="#5a5a5a">验证码突破、认证安全、业务授权安全、业务一致性安全</text>
<path d="M967.7 748.9H981.8" stroke="rgba(40,40,40,0.62)" stroke-width="1.00" fill="none"/>
<text x="984.0" y="750.90" font-size="5.55" fill="#5a5a5a">业务流程乱序、业务数据篡改、业务接口调用</text>
<path d="M974.6 748.9V762.2Q974.6 765.7 978.1 765.7H981.8" stroke="rgba(40,40,40,0.62)" stroke-width="1.00" fill="none"/>
<text x="984.0" y="767.70" font-size="5.55" fill="#5a5a5a">用户输入合规性、时效绕过测试、密码找回漏洞</text>
<path d="M1047.4 675.0V553.3Q1047.4 549.8 1050.9 549.8H1058.7" stroke="rgba(40,40,40,0.62)" stroke-width="1.00" fill="none"/>
<text x="1060.7" y="551.80" font-size="5.55" fill="#5a5a5a">项目</text>
<path d="M1074.5 549.8H1081.4" stroke="rgba(40,40,40,0.62)" stroke-width="1.00" fill="none"/>
<path d="M1081.4 549.8V544.7Q1081.4 541.2 1084.9 541.2H1088.6" stroke="rgba(40,40,40,0.62)" stroke-width="1.00" fill="none"/>
<text x="1090.8" y="543.20" font-size="5.55" fill="#5a5a5a">漏洞挖掘</text>
<path d="M1081.4 549.8V554.3Q1081.4 557.8 1084.9 557.8H1088.6" stroke="rgba(40,40,40,0.62)" stroke-width="1.00" fill="none"/>
<text x="1090.8" y="559.80" font-size="5.55" fill="#5a5a5a">安全检查</text>
<path d="M1047.4 675.0V584.2Q1047.4 580.7 1050.9 580.7H1058.7" stroke="rgba(40,40,40,0.62)" stroke-width="1.00" fill="none"/>
<text x="1060.7" y="582.70" font-size="5.55" fill="#5a5a5a">证书</text>
<path d="M1074.5 580.7H1088.6" stroke="rgba(40,40,40,0.62)" stroke-width="1.00" fill="none"/>
<text x="1090.8" y="582.70" font-size="5.55" fill="#5a5a5a"><tspan font-size="6.88" textLength="23.04" lengthAdjust="spacingAndGlyphs">CISP-PTE</tspan></text>
<path d="M1047.4 675.0V633.0Q1047.4 629.5 1050.9 629.5H1058.7" stroke="rgba(40,40,40,0.62)" stroke-width="1.00" fill="none"/>
<text x="1060.7" y="631.50" font-size="5.55" fill="#5a5a5a">就业岗位</text>
<path d="M1085.7 629.5H1092.6" stroke="rgba(40,40,40,0.62)" stroke-width="1.00" fill="none"/>
<path d="M1092.6 629.5V607.5Q1092.6 604.0 1096.1 604.0H1099.8" stroke="rgba(40,40,40,0.62)" stroke-width="1.00" fill="none"/>
<text x="1102.0" y="606.00" font-size="5.55" fill="#5a5a5a">安全服务工程师</text>
<path d="M1092.6 629.5V624.3Q1092.6 620.8 1096.1 620.8H1099.8" stroke="rgba(40,40,40,0.62)" stroke-width="1.00" fill="none"/>
<text x="1102.0" y="622.80" font-size="5.55" fill="#5a5a5a">安全运营工程师</text>
<path d="M1092.6 629.5V634.2Q1092.6 637.7 1096.1 637.7H1099.8" stroke="rgba(40,40,40,0.62)" stroke-width="1.00" fill="none"/>
<text x="1102.0" y="639.70" font-size="5.55" fill="#5a5a5a">渗透测试工程师</text>
<path d="M1092.6 629.5V651.2Q1092.6 654.7 1096.1 654.7H1099.8" stroke="rgba(40,40,40,0.62)" stroke-width="1.00" fill="none"/>
<text x="1102.0" y="656.70" font-size="5.55" fill="#5a5a5a">安全研究员</text>
<path d="M0.0 299.7H6.9" stroke="rgba(120,128,150,0.85)" stroke-width="1.00" fill="none"/>
<path d="M89.2 299.7H140.1" stroke="rgba(255,60,60,0.62)" stroke-width="1.00" fill="none"/>
<path d="M200.4 299.7H251.0" stroke="rgba(255,60,60,0.62)" stroke-width="1.00" fill="none"/>
<path d="M317.3 299.7H367.3" stroke="rgba(255,60,60,0.62)" stroke-width="1.00" fill="none"/>
<path d="M415.3 299.7H512.8" stroke="rgba(255,60,60,0.62)" stroke-width="1.00" fill="none"/>
<path d="M580.9 299.7H631.8" stroke="rgba(255,60,60,0.62)" stroke-width="1.00" fill="none"/>
<path d="M702.8 299.7H753.5" stroke="rgba(255,60,60,0.62)" stroke-width="1.00" fill="none"/>
<path d="M810.3 299.7H860.6" stroke="rgba(255,60,60,0.62)" stroke-width="1.00" fill="none"/>
<path d="M911.5 299.7H1005.3" stroke="rgba(255,60,60,0.62)" stroke-width="1.00" fill="none"/>
<path d="M1051.7 299.7H1102.3" stroke="rgba(120,128,150,0.85)" stroke-width="1.00" fill="none"/>
<path d="M1160.8 299.7H1239.5" stroke="rgba(120,128,150,0.85)" stroke-width="1.00" fill="none"/>
<path d="M0.0 682.2H6.8" stroke="rgba(70,70,70,0.70)" stroke-width="1.00" fill="none"/>
<path d="M89.5 682.2H140.4" stroke="rgba(70,70,70,0.70)" stroke-width="1.00" fill="none"/>
<path d="M212.5 682.2H263.2" stroke="rgba(70,70,70,0.70)" stroke-width="1.00" fill="none"/>
<path d="M309.7 682.2H374.1" stroke="rgba(70,70,70,0.70)" stroke-width="1.00" fill="none"/>
<path d="M418.5 682.2H501.9" stroke="rgba(70,70,70,0.70)" stroke-width="1.00" fill="none"/>
<path d="M547.1 682.2H597.8" stroke="rgba(70,70,70,0.70)" stroke-width="1.00" fill="none"/>
<path d="M636.6 682.2H688.0" stroke="rgba(70,70,70,0.70)" stroke-width="1.00" fill="none"/>
<path d="M730.8 682.2H781.5" stroke="rgba(70,70,70,0.70)" stroke-width="1.00" fill="none"/>
<path d="M849.1 682.2H900.0" stroke="rgba(70,70,70,0.70)" stroke-width="1.00" fill="none"/>
<path d="M960.8 682.2H1018.0" stroke="rgba(70,70,70,0.70)" stroke-width="1.00" fill="none"/>
<path d="M1077.7 682.2H1149.9" stroke="rgba(70,70,70,0.70)" stroke-width="1.00" fill="none"/>
<text x="27.3" y="302.22" font-size="7.00" font-weight="bold" fill="#2b2b2b">阶段<tspan font-size="7.70" textLength="4.28" lengthAdjust="spacingAndGlyphs">1</tspan>：基础入门</text>
<text x="27.3" y="684.72" font-size="7.00" font-weight="bold" fill="#2b2b2b">阶段<tspan font-size="7.70" textLength="4.28" lengthAdjust="spacingAndGlyphs">2</tspan>：技术进阶</text>
<text x="161.4" y="301.86" font-size="6.00" font-weight="bold" fill="#2b2b2b">网络安全导论</text>
<text x="278.0" y="301.86" font-size="6.00" font-weight="bold" fill="#2b2b2b">渗透测试基础</text>
<text x="388.3" y="301.86" font-size="6.00" font-weight="bold" fill="#2b2b2b">网络基础</text>
<text x="540.7" y="301.86" font-size="6.00" font-weight="bold" fill="#2b2b2b">操作系统基础</text>
<text x="675.6" y="301.86" font-size="6.00" font-weight="bold" fill="#2b2b2b">安全基础</text>
<text x="777.0" y="301.86" font-size="6.00" font-weight="bold" fill="#2b2b2b">数据库基础</text>
<text x="884.6" y="301.86" font-size="6.00" font-weight="bold" fill="#2b2b2b">编程基础</text>
<text x="1025.0" y="301.86" font-size="6.00" font-weight="bold" fill="#2b2b2b"><tspan font-size="6.60" textLength="11.66" lengthAdjust="spacingAndGlyphs">CTF</tspan>基础</text>
<text x="1104.7" y="301.86" font-size="6.00" font-weight="bold" fill="#f2303a">一阶段你收获什么?</text>
<text x="1260.4" y="301.86" font-size="6.00" font-weight="bold" fill="#f2303a">综合年收入<tspan font-size="6.60" textLength="16.33" lengthAdjust="spacingAndGlyphs">15w+</tspan></text>
<text x="161.2" y="684.36" font-size="6.00" font-weight="bold" fill="#2b2b2b">弱口令与口令爆破</text>
<text x="293.8" y="684.36" font-size="6.00" font-weight="bold" fill="#2b2b2b">漏洞</text>
<text x="403.7" y="684.36" font-size="6.00" font-weight="bold" fill="#2b2b2b">漏洞</text>
<text x="532.0" y="684.36" font-size="6.00" font-weight="bold" fill="#2b2b2b">漏洞</text>
<text x="621.6" y="684.36" font-size="6.00" font-weight="bold" fill="#2b2b2b">漏洞</text>
<text x="715.6" y="684.36" font-size="6.00" font-weight="bold" fill="#2b2b2b">注入</text>
<text x="798.0" y="684.36" font-size="6.00" font-weight="bold" fill="#2b2b2b">任意文件操作漏洞</text>
<text x="921.8" y="684.36" font-size="6.00" font-weight="bold" fill="#2b2b2b">业务逻辑漏洞</text>
<text x="1021.0" y="684.36" font-size="6.00" font-weight="bold" fill="#f2303a">二阶段你收获什么?</text>
<text x="1170.5" y="684.36" font-size="6.00" font-weight="bold" fill="#f2303a">综合年收入<tspan font-size="6.60" textLength="16.33" lengthAdjust="spacingAndGlyphs">25w+</tspan></text>
</g>
<defs>
<radialGradient id="gShield" cx="0.5" cy="0.5" r="0.6">
<stop offset="0" stop-color="#c4aef4"/><stop offset="0.5" stop-color="#7d95ec"/><stop offset="0.85" stop-color="#3a5fd0"/><stop offset="1" stop-color="#1a2fa6"/>
</radialGradient>
<radialGradient id="gNet" cx="0.5" cy="0.5" r="0.65">
<stop offset="0" stop-color="#d8f2fa"/><stop offset="0.3" stop-color="#4fa6c4"/><stop offset="0.75" stop-color="#15607f"/><stop offset="1" stop-color="#04202e"/>
</radialGradient>
<linearGradient id="gSwoosh" x1="0" x2="1" y1="0" y2="0">
<stop offset="0" stop-color="#f7cf1a"/><stop offset="0.6" stop-color="#f4a43a"/><stop offset="1" stop-color="#ee7a3a"/>
</linearGradient>
<linearGradient id="gHex" x1="0" x2="0" y1="0" y2="1">
<stop offset="0" stop-color="#17958f"/><stop offset="0.5" stop-color="#4fb06a"/><stop offset="1" stop-color="#b4d63c"/>
</linearGradient>
<radialGradient id="gKey" cx="0.5" cy="0.5" r="0.5">
<stop offset="0" stop-color="#f6ee12"/><stop offset="0.7" stop-color="#f4dc10"/><stop offset="1" stop-color="#e88a12"/>
</radialGradient>
<linearGradient id="gXss" x1="0" x2="0" y1="0" y2="1">
<stop offset="0" stop-color="#1b4c78"/><stop offset="0.5" stop-color="#356690"/><stop offset="1" stop-color="#1b4c78"/>
</linearGradient>
</defs>

<!-- stage check marks -->
<g id="chk1"><circle cx="18.8" cy="299.7" r="3.2" fill="#8c8c8c"/><path d="M17.1 299.8l1.2 1.2 2.2-2.4" stroke="#fff" stroke-width="0.9" fill="none"/></g>
<g id="chk2"><circle cx="18.4" cy="682.2" r="3.2" fill="#8c8c8c"/><path d="M16.7 682.3l1.2 1.2 2.2-2.4" stroke="#fff" stroke-width="0.9" fill="none"/></g>

<!-- 网络安全导论 : blue shield tile -->
<g>
<rect x="142.5" y="293" width="13.8" height="13.8" fill="#0d1d8e"/>
<path d="M149.400 293.700c2.300 1 4.200 1.300 5.900 1.300 0 5.300-1.500 9.200-5.900 11.200-4.400-2-5.900-5.900-5.900-11.200 1.700 0 3.600-.3 5.900-1.300z" fill="url(#gShield)" stroke="#4fb0ee" stroke-width="0.600"/>
</g>

<!-- 渗透测试基础 : SAFE tile -->
<g>
<rect x="253" y="292.8" width="20" height="14" fill="#626a7c"/>
<rect x="253" y="292.8" width="20" height="7.6" fill="#23457f"/>
<rect x="264.5" y="292.8" width="7.5" height="1.2" fill="#8a1c34"/>
<text x="263" y="299.9" font-size="6.6" font-weight="bold" fill="#e9f1fb" text-anchor="middle" textLength="17" lengthAdjust="spacingAndGlyphs">SAFE</text>
<text x="263" y="305.4" font-size="4.0" fill="#c9cdd6" text-anchor="middle" textLength="16.5" lengthAdjust="spacingAndGlyphs">等保测试</text>
</g>

<!-- 网络基础 : teal tile + numbered marker -->
<g>
<rect x="369.6" y="293" width="13.6" height="13.6" fill="url(#gNet)"/>
<circle cx="372.6" cy="295.6" r="0.7" fill="#9fd4e6"/><circle cx="379.6" cy="295.8" r="0.7" fill="#9fd4e6"/><circle cx="371.2" cy="302" r="0.7" fill="#cfeaf3"/>
<circle cx="390.8" cy="283.0" r="3.800" fill="#fff" stroke="#ff6a6a" stroke-width="0.950"/>
<path d="M390.8 286.8V289.900" stroke="#ff8a8a" stroke-width="1.000"/>
<text x="390.8" y="285.0" font-size="5.400" font-weight="bold" fill="#ff86a6" text-anchor="middle">1</text>
</g>

<!-- 操作系统基础 : Linux logo -->
<g>
<text x="515.9" y="299.5" font-size="6.6" font-weight="bold" fill="#5c5c5c" stroke="#6a6a6a" stroke-width="0.450" textLength="13.4" lengthAdjust="spacingAndGlyphs">Linux</text>
<path d="M515.800 300.600c4.300-1.100 9.000-1.400 13.800-1.000l0 .9c-4.300.4-8.300 1.500-12.200 2.900-2.000.7-3.000-2.100-1.600-2.800z" fill="url(#gSwoosh)"/>
<path d="M532.6 294.2c1.500 0 2 1.200 2.100 2.400.1 1.500 1.500 3 1.500 5.100 0 1.300-.5 1.900-1.200 2.100h-4.800c-.8-.2-1.400-.8-1.400-2.100 0-2.100 1.500-3.600 1.600-5.100.1-1.200.7-2.400 2.200-2.400z" fill="#262626"/>
<path d="M532.6 297.600c1.100 0 1.900 1.900 1.900 3.700 0 1.500-.8 2.300-1.900 2.300s-1.900-.8-1.900-2.300c0-1.800.8-3.700 1.900-3.700z" fill="#fff"/>
<path d="M531.700 296.700l.9.800.9-.8-.9-.4z" fill="#e8b820"/>
<ellipse cx="530.600" cy="303.400" rx="1.800" ry=".800" fill="#e6b41e"/>
<ellipse cx="534.700" cy="303.400" rx="1.800" ry=".800" fill="#e6b41e"/>
</g>

<!-- 安全基础 : WEB logo -->
<g>
<path d="M641.800 295.500l4.100 2.400v4.700l-4.100 2.400-4.100-2.400v-4.700z" fill="#fff" stroke="url(#gHex)" stroke-width="2.100" stroke-linejoin="round"/>
<path d="M639.300 298.200l1.300 1 2.400 0 1.300-1-.4 3.300-2.100 1.600-2.100-1.600z" fill="#3a3a3a"/>
<text x="648.4" y="302.200" font-size="8.900" font-weight="bold" fill="#1c9790" textLength="19.6" lengthAdjust="spacingAndGlyphs">WEB</text>
<path d="M648.600 304.500h7.200M661 304.500h7" stroke="#c8c8c8" stroke-width="0.400"/>
<text x="658.400" y="305.500" font-size="2.800" fill="#777" text-anchor="middle">安全</text>
</g>

<!-- 数据库基础 : database -->
<g fill="#1578c6">
<path d="M757.2 294.600c0-3.400 13.200-3.400 13.200 0v10c0 3.600-13.200 3.600-13.200 0z"/>
<path d="M757.400 296.200c1.500 1.900 11.300 1.900 12.800 0M757.400 300.400c1.500 1.900 11.300 1.900 12.800 0M757.400 303.900c1.500 1.700 8 1.900 9 1" stroke="#7cb8e6" stroke-width="0.700" fill="none"/>
<circle cx="768.9" cy="304.400" r="3" fill="#3a8ed0" stroke="#fff" stroke-width="0.500"/>
<path d="M767.600 304.600l1 .9 1.700-2" stroke="#d8ecfa" stroke-width="0.800" fill="none"/>
</g>

<!-- 编程基础 : black round badge -->
<g>
<circle cx="871.2" cy="299.600" r="7.800" fill="#000"/>
<path d="M868.300 300c-1.500.5-1.500 3.600.9 3.600 1.800 0 2.300-1.200 2.300-2.500v-3c0-1.700.900-2.400 2.100-2.400 2.200 0 2.500 3.300.7 4" stroke="#b4b4b4" stroke-width="1.500" fill="none" stroke-linecap="round"/>
</g>

<!-- CTF基础 : padlock -->
<g fill="none" stroke="#8b8b96">
<path d="M1011.400 299.200v-2.200c0-3.600 5.400-3.600 5.400 0v2.200" stroke-width="1.200"/>
<rect x="1009.500" y="299.500" width="9.200" height="5.500" rx="1" fill="#f4f4f6" stroke-width="1.500"/>
</g>

<!-- yen signs -->
<text x="1248.700" y="305.800" font-size="15.500" fill="#000" stroke="#000" stroke-width="0.450" text-anchor="middle">¥</text>
<text x="1159.000" y="688.300" font-size="15.500" fill="#000" stroke="#000" stroke-width="0.450" text-anchor="middle">¥</text>

<!-- 弱口令 : key tile -->
<g>
<rect x="142.800" y="675.500" width="13.500" height="13.400" fill="#c9151a"/>
<circle cx="149.550" cy="682.200" r="5.500" fill="url(#gKey)"/>
<circle cx="147.700" cy="684.400" r="1.400" fill="#e8701a" stroke="#d8431a" stroke-width="1.000"/>
<path d="M148.700 683.300l3.200-3.700m-1.100 1.200l1.400 1.200m-.2-2.500l1.300 1.100" stroke="#d8431a" stroke-width="1.250" fill="none"/>
</g>

<!-- XSS / CSRF / SSRF / XXE / SQL word marks -->
<text x="265.900" y="686.000" font-size="9.900" fill="url(#gXss)" transform="rotate(0.05 277 682)" stroke="#245682" stroke-width="0.450" textLength="22.600" lengthAdjust="spacingAndGlyphs">XSS</text>
<rect x="376.200" y="678.000" width="22.700" height="8.200" fill="#efeedd"/>
<text x="377.400" y="685.900" font-size="9.700" font-weight="bold" fill="#d9634c" transform="rotate(0.05 388 682)" textLength="20.600" lengthAdjust="spacingAndGlyphs">CSRF</text>
<text x="504.200" y="686.500" font-size="10.700" font-weight="bold" fill="#4a4a4a" transform="rotate(0.05 515 682)" stroke="#666" stroke-width="0.500" textLength="22.300" lengthAdjust="spacingAndGlyphs">SSRF</text>
<text x="600.800" y="686.000" font-size="9.800" fill="#3a3a3a" transform="rotate(0.05 608 682)" textLength="14.600" lengthAdjust="spacingAndGlyphs">XXE</text>
<rect x="689.000" y="677.900" width="21.800" height="9.100" fill="#dfe87f"/>
<text x="691.100" y="685.800" font-size="9.500" font-weight="bold" fill="#2f4a5a" transform="rotate(0.05 700 682)" stroke="#2f4a5a" stroke-width="0.550" textLength="18.600" lengthAdjust="spacingAndGlyphs">SQL</text>

<!-- 任意文件 : yellow file -->
<g>
<path d="M784.400 677.900h5.200l1.700 1.700v6.600h-6.900z" fill="#f6cf55"/>
<path d="M789.600 677.900l1.700 1.700h-1.700z" fill="#fbe9a8"/>
<rect x="784.400" y="677.900" width="5.200" height="1.400" fill="#f9dc7e"/>
</g>

<!-- 业务逻辑 : colour ring -->
<g>
<circle cx="909.30" cy="677.20" r="2.550" fill="#f3c21d"/>
<circle cx="912.84" cy="678.66" r="2.550" fill="#f08a2c"/>
<circle cx="914.30" cy="682.20" r="2.550" fill="#7dc242"/>
<circle cx="912.84" cy="685.74" r="2.550" fill="#9a4fb0"/>
<circle cx="909.30" cy="687.20" r="2.550" fill="#ec5fa0"/>
<circle cx="905.76" cy="685.74" r="2.550" fill="#b3a4dc"/>
<circle cx="904.30" cy="682.20" r="2.550" fill="#e86fae"/>
<circle cx="905.76" cy="678.66" r="2.550" fill="#2f8fd6"/>
<circle cx="909.300" cy="682.200" r="3.000" fill="#fff"/>
<path d="M907.800 682.200h3" stroke="#bbb" stroke-width="0.500"/>
</g>

<!-- watermark -->
<g fill="#fff" fill-opacity="0.9">
<text y="874.600"><tspan x="1167.300" font-size="16.500" textLength="44.000" lengthAdjust="spacingAndGlyphs">CSDN</tspan><tspan x="1218.900" font-size="16.500" textLength="14.400" lengthAdjust="spacingAndGlyphs">@</tspan><tspan x="1233.400" font-size="17.600">码农成神</tspan></text>
</g>
<g fill="#8e8e8e">
<text y="873.700"><tspan x="1166.400" font-size="16.500" textLength="44.000" lengthAdjust="spacingAndGlyphs">CSDN</tspan><tspan x="1218.000" font-size="16.500" textLength="14.400" lengthAdjust="spacingAndGlyphs">@</tspan><tspan x="1232.500" font-size="17.600">码农成神</tspan></text>
</g>

</svg>
</body>
</html>
